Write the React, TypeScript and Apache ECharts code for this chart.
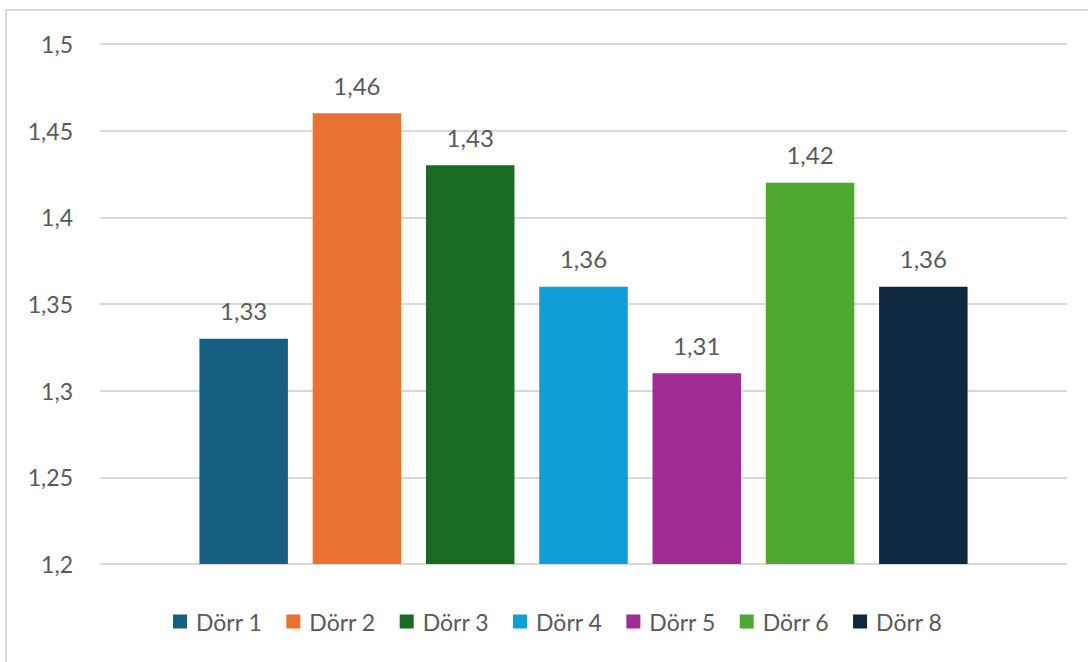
import React, { useEffect, useRef } from "react";
import * as echarts from "echarts";

// Door names and their measured values
const doors = ["Dörr 1", "Dörr 2", "Dörr 3", "Dörr 4", "Dörr 5", "Dörr 6", "Dörr 8"];
const values = [1.33, 1.46, 1.43, 1.36, 1.31, 1.42, 1.36];
const colors = ["#156082", "#E97132", "#196B24", "#0F9ED5", "#A02B93", "#4EA72E", "#0E2841"];

// Value axis range
const yMin = 1.2;
const yMax = 1.5;
const yStep = 0.05;

const fmt = (v: number) => String(Number(v.toFixed(2))).replace(".", ",");

export default function App() {
  const ref = useRef<HTMLDivElement>(null);

  useEffect(() => {
    if (!ref.current) return;
    const chart = echarts.init(ref.current, undefined, { renderer: "svg" });
    const textColor = "#595959";
    const font = "Lato, 'Open Sans', sans-serif";

    chart.setOption({
      animation: false,
      backgroundColor: "#ffffff",
      textStyle: { fontFamily: font, color: textColor },
      graphic: [
        {
          type: "rect",
          shape: { x: 6, y: 10, width: 1200, height: 800 },
          style: { fill: "none", stroke: "#d9d9d9", lineWidth: 2 },
          silent: true,
        },
      ],
      grid: { left: 100, right: 21, top: 44, bottom: 98, containLabel: false },
      legend: {
        bottom: 24,
        left: 168,
        itemWidth: 14,
        itemHeight: 14,
        itemGap: 24,
        icon: "rect",
        data: doors,
        textStyle: { fontSize: 23, color: textColor, fontFamily: font, padding: [0, 0, 0, 4] },
      },
      xAxis: {
        type: "category",
        data: [""],
        axisLine: { show: false },
        axisTick: { show: false },
        axisLabel: { show: false },
      },
      yAxis: {
        type: "value",
        min: yMin,
        max: yMax,
        interval: yStep,
        axisLine: { show: false },
        axisTick: { show: false },
        axisLabel: {
          formatter: (v: number) => fmt(v),
          fontSize: 23,
          color: textColor,
          fontFamily: font,
          margin: 27,
        },
        splitLine: { lineStyle: { color: "#d9d9d9", width: 2 } },
      },
      series: doors.map((name, i) => ({
        name,
        type: "bar",
        data: [values[i]],
        barWidth: 88.5,
        barGap: "28%",
        itemStyle: { color: colors[i] },
        label: {
          show: true,
          position: "top",
          distance: 16,
          formatter: (p: any) => fmt(p.value),
          fontSize: 24,
          color: textColor,
          fontFamily: font,
        },
      })),
    });

    return () => chart.dispose();
  }, []);

  return (
    <div
      ref={ref}
      style={{ position: "absolute", left: 0, top: 0, width: 1088, height: 662 }}
    />
  );
}
